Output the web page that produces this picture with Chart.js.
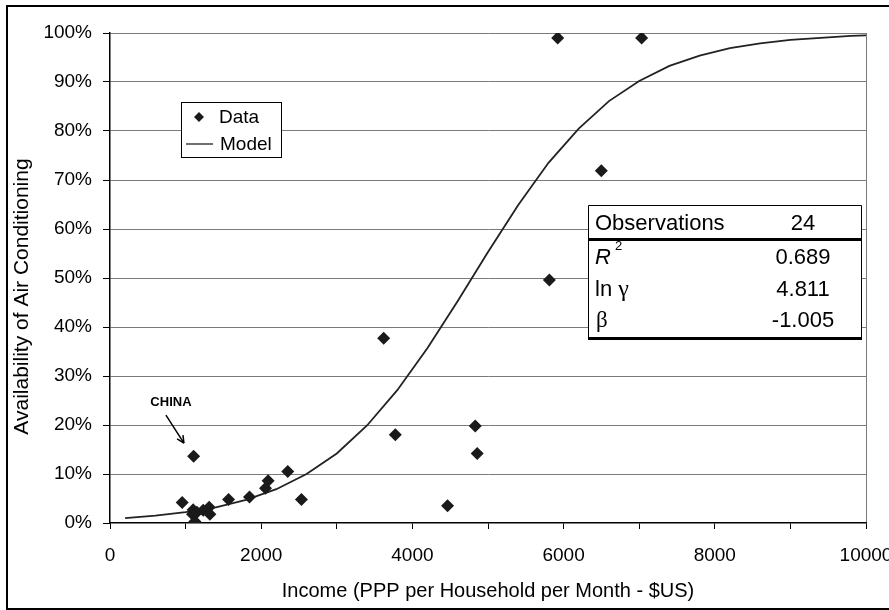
<!DOCTYPE html>
<html>
<head>
<meta charset="utf-8">
<script src="https://cdn.jsdelivr.net/npm/chart.js@4.4.0/dist/chart.umd.min.js"></script>
<style>
    html, body { margin: 0; padding: 0; background: #fff; }
    #wrap { width: 889px; height: 610px; }
</style>
</head>
<body>
<div id="wrap"><canvas id="acChart" width="889" height="610"></canvas></div>
<script>
// observed countries: income (PPP $US / household / month) and AC availability (%)
const incomes = [955, 1106, 1100, 1091, 1123, 1150, 1233, 1312, 1321, 1568, 1845, 2057,
                 2092, 2351, 2532, 3620, 3774, 4465, 4831, 4857, 5812, 5922, 6499, 7032];
const acRates = [4.2, 13.6, 2.7, 1.8, 0.3, 2.2, 2.6, 3.2, 1.8, 4.8, 5.3, 7.1,
                 8.6, 10.5, 4.8, 37.7, 18.0, 3.5, 19.8, 14.2, 49.6, 99.0, 71.9, 99.0];

// fitted model curve
const modelIncomes = [200, 600, 1000, 1400, 1800, 2200, 2600, 3000, 3400, 3800, 4200, 4600, 5000,
                      5400, 5800, 6200, 6600, 7000, 7400, 7800, 8200, 8600, 9000, 9400, 9800, 10000];
const modelRates = [1.0, 1.5, 2.2, 3.2, 4.7, 6.9, 10.0, 14.2, 19.9, 27.1, 35.7, 45.3, 55.3,
                    64.9, 73.5, 80.5, 86.1, 90.2, 93.3, 95.4, 96.9, 97.9, 98.6, 99.0, 99.4, 99.5];

const xTickLabels = ['0', '2000', '4000', '6000', '8000', '10000'];
const yTickLabels = ['0%', '10%', '20%', '30%', '40%', '50%', '60%', '70%', '80%', '90%', '100%'];

const statRows = [
    ['Observations', '24'],
    ['R', '0.689'],
    ['ln γ', '4.811'],
    ['β', '-1.005']
];

const chinaNote = { text: 'CHINA', x: 806, y: 24.7, arrowFrom: [740, 22.0], arrowTo: [978, 16.3] };

const SANS = "'Liberation Sans', Arial, sans-serif";
const SERIF = "'Liberation Serif', 'Times New Roman', serif";
const GRID = '#7a7a7a';
const INK = '#1a1a1a';

Chart.defaults.font.family = SANS;
Chart.defaults.color = '#000';

const pagePlugin = {
    id: 'pagePlugin',
    beforeDraw(chart) {
        const ctx = chart.ctx;
        ctx.save();
        ctx.fillStyle = '#fff';
        ctx.fillRect(0, 0, chart.width, chart.height);
        ctx.restore();
    },
    afterDraw(chart) {
        const ctx = chart.ctx;
        ctx.save();
        // outer frame (right side runs off the picture)
        ctx.strokeStyle = '#000';
        ctx.lineWidth = 2;
        ctx.strokeRect(7, 6, 950, 603);

        // y axis title
        ctx.translate(28, 296.5);
        ctx.rotate(-Math.PI / 2);
        ctx.font = '21px ' + SANS;
        ctx.textAlign = 'center';
        ctx.textBaseline = 'alphabetic';
        ctx.fillStyle = '#000';
        ctx.fillText('Availability of Air Conditioning', 0, 0);
        ctx.restore();
    }
};

const legendPlugin = {
    id: 'boxLegend',
    afterDraw(chart) {
        const ctx = chart.ctx;
        const sets = chart.data.datasets;
        ctx.save();
        ctx.fillStyle = '#fff';
        ctx.fillRect(181.5, 102.5, 100, 55);
        ctx.strokeStyle = '#000';
        ctx.lineWidth = 1;
        ctx.strokeRect(181.5, 102.5, 100, 55);

        // diamond
        ctx.fillStyle = INK;
        ctx.beginPath();
        ctx.moveTo(199, 112);
        ctx.lineTo(204, 117);
        ctx.lineTo(199, 122);
        ctx.lineTo(194, 117);
        ctx.closePath();
        ctx.fill();
        // line
        ctx.strokeStyle = '#222';
        ctx.lineWidth = 1.3;
        ctx.beginPath();
        ctx.moveTo(186, 144);
        ctx.lineTo(213, 144);
        ctx.stroke();

        ctx.fillStyle = '#000';
        ctx.font = '19px ' + SANS;
        ctx.textBaseline = 'middle';
        ctx.fillText(sets[0].label, 219, 118);
        ctx.fillText(sets[1].label, 220, 145);
        ctx.restore();
    }
};

const statsPlugin = {
    id: 'statsTable',
    afterDraw(chart) {
        const ctx = chart.ctx;
        const left = 588, right = 862, top = 205, bottom = 339;
        const rowY = [224, 258, 290, 321];
        const valX = 803;
        ctx.save();
        ctx.fillStyle = '#fff';
        ctx.fillRect(left, top, right - left, bottom - top);
        ctx.strokeStyle = '#000';
        ctx.lineWidth = 1;
        ctx.beginPath();
        ctx.moveTo(left + 0.5, bottom);
        ctx.lineTo(left + 0.5, top + 0.5);
        ctx.lineTo(right - 0.5, top + 0.5);
        ctx.lineTo(right - 0.5, bottom);
        ctx.stroke();
        ctx.lineWidth = 3;
        ctx.beginPath();
        ctx.moveTo(left, 239.5);
        ctx.lineTo(right, 239.5);
        ctx.moveTo(left, 338.5);
        ctx.lineTo(right, 338.5);
        ctx.stroke();

        ctx.fillStyle = '#000';
        ctx.textBaseline = 'middle';
        statRows.forEach((row, i) => {
            const y = rowY[i];
            ctx.textAlign = 'left';
            if (i === 0) {
                ctx.font = '22px ' + SANS;
                ctx.fillText(row[0], 595, y);
            } else if (i === 1) {
                ctx.font = 'italic 22px ' + SANS;
                ctx.fillText(row[0], 595, y);
                ctx.font = '13px ' + SANS;
                ctx.fillText('2', 615, y - 12);
            } else if (i === 2) {
                ctx.font = '22px ' + SANS;
                const [ln, g] = row[0].split(' ');
                ctx.fillText(ln + ' ', 595, y);
                const w = ctx.measureText(ln + ' ').width;
                ctx.font = '24px ' + SERIF;
                ctx.fillText(g, 595 + w, y);
            } else {
                ctx.font = '23px ' + SERIF;
                ctx.fillText(row[0], 596, y);
            }
            ctx.font = '22px ' + SANS;
            ctx.textAlign = 'center';
            ctx.fillText(row[1], valX, y);
        });
        ctx.restore();
    }
};

const notePlugin = {
    id: 'chinaNote',
    afterDatasetsDraw(chart) {
        const ctx = chart.ctx;
        const xs = chart.scales.x, ys = chart.scales.y;
        const tx = xs.getPixelForValue(chinaNote.x), ty = ys.getPixelForValue(chinaNote.y);
        const x0 = xs.getPixelForValue(chinaNote.arrowFrom[0]), y0 = ys.getPixelForValue(chinaNote.arrowFrom[1]);
        const x1 = xs.getPixelForValue(chinaNote.arrowTo[0]), y1 = ys.getPixelForValue(chinaNote.arrowTo[1]);
        ctx.save();
        ctx.fillStyle = '#000';
        ctx.font = 'bold 13px ' + SANS;
        ctx.textAlign = 'center';
        ctx.textBaseline = 'middle';
        ctx.fillText(chinaNote.text, tx, ty);

        ctx.strokeStyle = '#000';
        ctx.lineWidth = 1.5;
        ctx.beginPath();
        ctx.moveTo(x0, y0);
        ctx.lineTo(x1, y1);
        ctx.stroke();
        const ang = Math.atan2(y1 - y0, x1 - x0);
        ctx.beginPath();
        ctx.moveTo(x1, y1);
        ctx.lineTo(x1 - 8 * Math.cos(ang - 0.45), y1 - 8 * Math.sin(ang - 0.45));
        ctx.moveTo(x1, y1);
        ctx.lineTo(x1 - 8 * Math.cos(ang + 0.45), y1 - 8 * Math.sin(ang + 0.45));
        ctx.stroke();
        ctx.restore();
    }
};

const ctx = document.getElementById('acChart').getContext('2d');
new Chart(ctx, {
    type: 'scatter',
    data: {
        datasets: [
            {
                label: 'Data',
                data: incomes.map((v, i) => ({ x: v, y: acRates[i] })),
                pointStyle: 'rectRot',
                pointRadius: 6.5,
                pointHoverRadius: 6.5,
                backgroundColor: INK,
                borderColor: INK,
                borderWidth: 0,
                showLine: false
            },
            {
                label: 'Model',
                data: modelIncomes.map((v, i) => ({ x: v, y: modelRates[i] })),
                showLine: true,
                pointRadius: 0,
                borderColor: '#222',
                borderWidth: 1.8,
                tension: 0,
                fill: false
            }
        ]
    },
    options: {
        responsive: false,
        animation: false,
        layout: { padding: { left: 0, top: 33, right: 23, bottom: 0 } },
        plugins: { legend: { display: false }, tooltip: { enabled: false } },
        scales: {
            x: {
                type: 'linear',
                min: 0,
                max: 10000,
                ticks: {
                    stepSize: 1000,
                    autoSkip: false,
                    maxRotation: 0,
                    padding: 15,
                    color: '#000',
                    font: { size: 19 },
                    callback: v => (v % 2000 === 0 ? xTickLabels[v / 2000] : '')
                },
                grid: {
                    color: c => (c.tick && c.tick.value === 10000 ? GRID : 'rgba(0,0,0,0)'),
                    tickColor: '#000',
                    tickLength: 6,
                    lineWidth: 1
                },
                border: { color: '#000', width: 1.5 },
                title: {
                    display: true,
                    text: 'Income (PPP per Household per Month - $US)',
                    color: '#000',
                    font: { size: 20 },
                    padding: { top: 0, bottom: 7 }
                },
                afterFit: s => { s.height = 87; s.paddingLeft = 0; s.paddingRight = 0; }
            },
            y: {
                min: 0,
                max: 100,
                ticks: {
                    stepSize: 10,
                    padding: 11,
                    color: '#000',
                    font: { size: 19 },
                    callback: v => yTickLabels[Math.round(v / 10)]
                },
                grid: {
                    color: c => (c.tick && c.tick.value === 0 ? 'rgba(0,0,0,0)' : GRID),
                    tickColor: '#000',
                    tickLength: 7,
                    lineWidth: 1
                },
                border: { color: '#000', width: 1.5 },
                afterFit: s => { s.width = 110; s.paddingTop = 0; s.paddingBottom = 0; }
            }
        }
    },
    plugins: [pagePlugin, notePlugin, legendPlugin, statsPlugin]
});
</script>
</body>
</html>
